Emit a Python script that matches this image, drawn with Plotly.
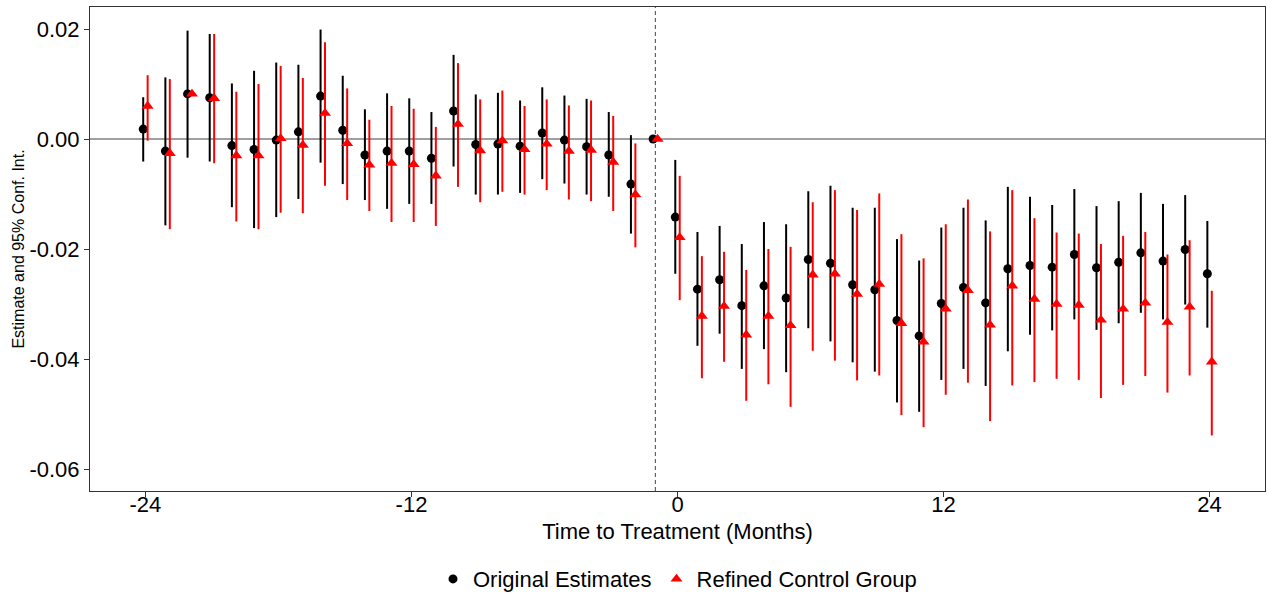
import plotly.graph_objects as go

months = list(range(-24, 25))

orig_est = [0.0018, -0.0022, 0.0082, 0.0075, -0.0012, -0.0019, -0.0002, 0.0013, 0.0078, 0.0016,
            -0.0029, -0.0022, -0.0022, -0.0035, 0.0051, -0.0010, -0.0009, -0.0013, 0.0011, -0.0002,
            -0.0014, -0.0029, -0.0082, 0.0000,
            -0.0142, -0.0273, -0.0256, -0.0303, -0.0267, -0.0289, -0.0219, -0.0226, -0.0265, -0.0274,
            -0.0330, -0.0358, -0.0299, -0.0270, -0.0298, -0.0236, -0.0230, -0.0233, -0.0210, -0.0234,
            -0.0224, -0.0207, -0.0222, -0.0201, -0.0245]
orig_hi = [0.0076, 0.0112, 0.0197, 0.0191, 0.0101, 0.0124, 0.0139, 0.0135, 0.0199, 0.0115,
           0.0054, 0.0083, 0.0074, 0.0049, 0.0153, 0.0081, 0.0084, 0.0070, 0.0094, 0.0079,
           0.0073, 0.0049, 0.0007, 0.0000,
           -0.0038, -0.0169, -0.0158, -0.0191, -0.0151, -0.0155, -0.0095, -0.0085, -0.0125, -0.0125,
           -0.0182, -0.0221, -0.0161, -0.0125, -0.0148, -0.0087, -0.0105, -0.0120, -0.0091, -0.0122,
           -0.0113, -0.0098, -0.0118, -0.0102, -0.0149]
orig_lo = [-0.0041, -0.0157, -0.0034, -0.0041, -0.0124, -0.0162, -0.0142, -0.0109, -0.0043, -0.0082,
           -0.0111, -0.0127, -0.0118, -0.0118, -0.0050, -0.0101, -0.0101, -0.0098, -0.0073, -0.0081,
           -0.0101, -0.0105, -0.0172, 0.0000,
           -0.0245, -0.0376, -0.0354, -0.0418, -0.0382, -0.0424, -0.0344, -0.0368, -0.0406, -0.0423,
           -0.0479, -0.0496, -0.0438, -0.0418, -0.0449, -0.0386, -0.0356, -0.0348, -0.0328, -0.0347,
           -0.0335, -0.0316, -0.0328, -0.0301, -0.0343]

ref_est = [0.0060, -0.0026, 0.0082, 0.0074, -0.0030, -0.0030, 0.0001, -0.0011, 0.0047, -0.0008,
           -0.0047, -0.0044, -0.0046, -0.0067, 0.0027, -0.0021, -0.0003, -0.0019, -0.0009, -0.0022,
           -0.0020, -0.0042, -0.0101, 0.0000,
           -0.0179, -0.0322, -0.0304, -0.0356, -0.0322, -0.0339, -0.0247, -0.0245, -0.0282, -0.0264,
           -0.0335, -0.0369, -0.0309, -0.0275, -0.0338, -0.0267, -0.0291, -0.0300, -0.0302, -0.0329,
           -0.0309, -0.0298, -0.0333, -0.0305, -0.0405]
ref_hi = [0.0116, 0.0109, 0.0082, 0.0191, 0.0086, 0.0100, 0.0133, 0.0111, 0.0176, 0.0092,
          0.0035, 0.0060, 0.0055, 0.0022, 0.0138, 0.0072, 0.0088, 0.0060, 0.0072, 0.0061,
          0.0070, 0.0042, -0.0008, 0.0000,
          -0.0067, -0.0213, -0.0205, -0.0238, -0.0200, -0.0196, -0.0115, -0.0093, -0.0129, -0.0099,
          -0.0173, -0.0217, -0.0155, -0.0110, -0.0168, -0.0093, -0.0144, -0.0170, -0.0172, -0.0191,
          -0.0176, -0.0169, -0.0210, -0.0184, -0.0276]
ref_lo = [-0.0003, -0.0164, 0.0082, -0.0044, -0.0150, -0.0164, -0.0134, -0.0135, -0.0085, -0.0111,
          -0.0131, -0.0151, -0.0151, -0.0158, -0.0087, -0.0115, -0.0096, -0.0101, -0.0093, -0.0110,
          -0.0113, -0.0131, -0.0197, 0.0000,
          -0.0293, -0.0435, -0.0405, -0.0476, -0.0446, -0.0487, -0.0385, -0.0403, -0.0439, -0.0430,
          -0.0502, -0.0524, -0.0465, -0.0443, -0.0513, -0.0448, -0.0442, -0.0436, -0.0438, -0.0471,
          -0.0447, -0.0431, -0.0461, -0.0430, -0.0539]

y_ticks = [0.02, 0.0, -0.02, -0.04, -0.06]
y_tick_labels = ["0.02", "0.00", "-0.02", "-0.04", "-0.06"]
x_ticks = [-24, -12, 0, 12, 24]
x_tick_labels = ["-24", "-12", "0", "12", "24"]

dodge = 0.1
FONT = "Liberation Sans, Arial, sans-serif"

fig = go.Figure()
fig.add_trace(go.Scatter(
    x=[m - dodge for m in months], y=orig_est, mode="markers", name="Original Estimates",
    marker=dict(symbol="circle", size=9, color="black"),
    error_y=dict(type="data", symmetric=False,
                 array=[h - e for h, e in zip(orig_hi, orig_est)],
                 arrayminus=[e - l for e, l in zip(orig_est, orig_lo)],
                 color="black", thickness=2, width=0),
))
fig.add_trace(go.Scatter(
    x=[m + dodge for m in months], y=ref_est, mode="markers", name="Refined Control Group",
    marker=dict(symbol="triangle-up", size=10.5, color="red"),
    error_y=dict(type="data", symmetric=False,
                 array=[h - e for h, e in zip(ref_hi, ref_est)],
                 arrayminus=[e - l for e, l in zip(ref_est, ref_lo)],
                 color="red", thickness=2, width=0),
))

fig.add_hline(y=0, line=dict(color="#7f7f7f", width=1.5), layer="below")
fig.add_vline(x=-1, line=dict(color="#444444", width=1, dash="4px,3px"), layer="below")

fig.update_layout(
    width=1267, height=595,
    margin=dict(l=90, r=2, t=7, b=104, autoexpand=False),
    paper_bgcolor="white", plot_bgcolor="white",
    font=dict(family=FONT, color="black"),
    showlegend=True,
    legend=dict(orientation="h", x=0.5, xanchor="center", y=-0.182, yanchor="middle",
                font=dict(size=22, color="black"), itemwidth=30),
)
fig.update_xaxes(
    range=[-26.5, 26.5], tickvals=x_ticks, ticktext=x_tick_labels,
    showgrid=False, zeroline=False, showline=True, mirror=True, linecolor="#333333", linewidth=1,
    ticks="outside", ticklen=5, tickcolor="#333333", tickfont=dict(size=22, color="black"),
    ticklabelstandoff=-11,
    title=dict(text="Time to Treatment (Months)", font=dict(size=22, color="black"), standoff=7),
)
fig.update_yaxes(
    range=[-0.064, 0.024], tickvals=y_ticks, ticktext=y_tick_labels,
    showgrid=False, zeroline=False, showline=True, mirror=True, linecolor="#333333", linewidth=1,
    ticks="outside", ticklen=5, tickcolor="#333333", tickfont=dict(size=22, color="black"),
    title=dict(text="Estimate and 95% Conf. Int.", font=dict(size=16, color="black"), standoff=0),
)

fig.write_html("out.html")
